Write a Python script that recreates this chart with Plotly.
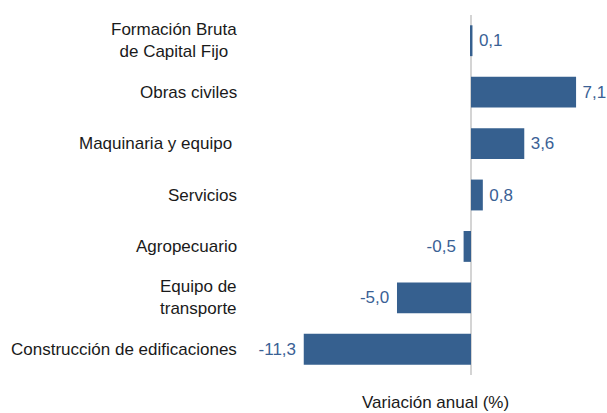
import plotly.graph_objects as go

categories = [
    "Formación Bruta<br>de Capital Fijo",
    "Obras civiles",
    "Maquinaria y equipo\u00a0",
    "Servicios",
    "Agropecuario",
    "Equipo de<br>transporte",
    "Construcción de edificaciones",
]
values = [0.1, 7.1, 3.6, 0.8, -0.5, -5.0, -11.3]
x_title = "Variación anual (%)"

bar_color = "#36608F"
label_color = "#3A6195"
font_family = "Liberation Sans, Arial, sans-serif"

texts = [("\u2009" + f"{v:.1f}".replace(".", ",")) if v >= 0 else (f"{v:.1f}".replace(".", ",") + " ") for v in values]

fig = go.Figure()
fig.add_trace(go.Bar(
    y=categories,
    x=values,
    orientation="h",
    marker=dict(color=bar_color, line=dict(width=0)),
    width=0.6,
    text=texts,
    textposition="outside",
    textfont=dict(color=label_color, size=17, family=font_family),
    constraintext="none",
    cliponaxis=False,
    hoverinfo="skip",
))

for c in categories:
    fig.add_annotation(
        x=0, xref="paper", xanchor="right", xshift=-6,
        y=c, yref="y", yanchor="middle",
        text=c, showarrow=False, align="center",
        font=dict(size=17, color="#1a1a1a", family=font_family),
    )

fig.add_annotation(
    x=-2.4, xref="x", xanchor="center",
    y=0, yref="paper", yanchor="middle", yshift=-27,
    text=x_title, showarrow=False,
    font=dict(size=17, color="#1a1a1a", family=font_family),
)

fig.update_layout(
    width=607, height=413,
    margin=dict(l=245, r=0, t=15, b=38),
    paper_bgcolor="white", plot_bgcolor="white",
    showlegend=False,
    hovermode=False,
    font=dict(family=font_family, size=17),
    xaxis=dict(
        range=[-15.27, 9.19],
        showgrid=False, showticklabels=False, ticks="",
        zeroline=True, zerolinecolor="#D4D4D4", zerolinewidth=1.5,
        showline=False, fixedrange=True,
    ),
    yaxis=dict(
        categoryorder="array", categoryarray=categories,
        autorange="reversed",
        showgrid=False, showticklabels=False, ticks="",
        zeroline=False, showline=False, fixedrange=True,
    ),
    bargap=0.4,
)

page_fix = "document.body.style.margin='0';document.body.style.overflow='hidden';"
fig.write_html("out.html", post_script=page_fix, config={"displayModeBar": False})
